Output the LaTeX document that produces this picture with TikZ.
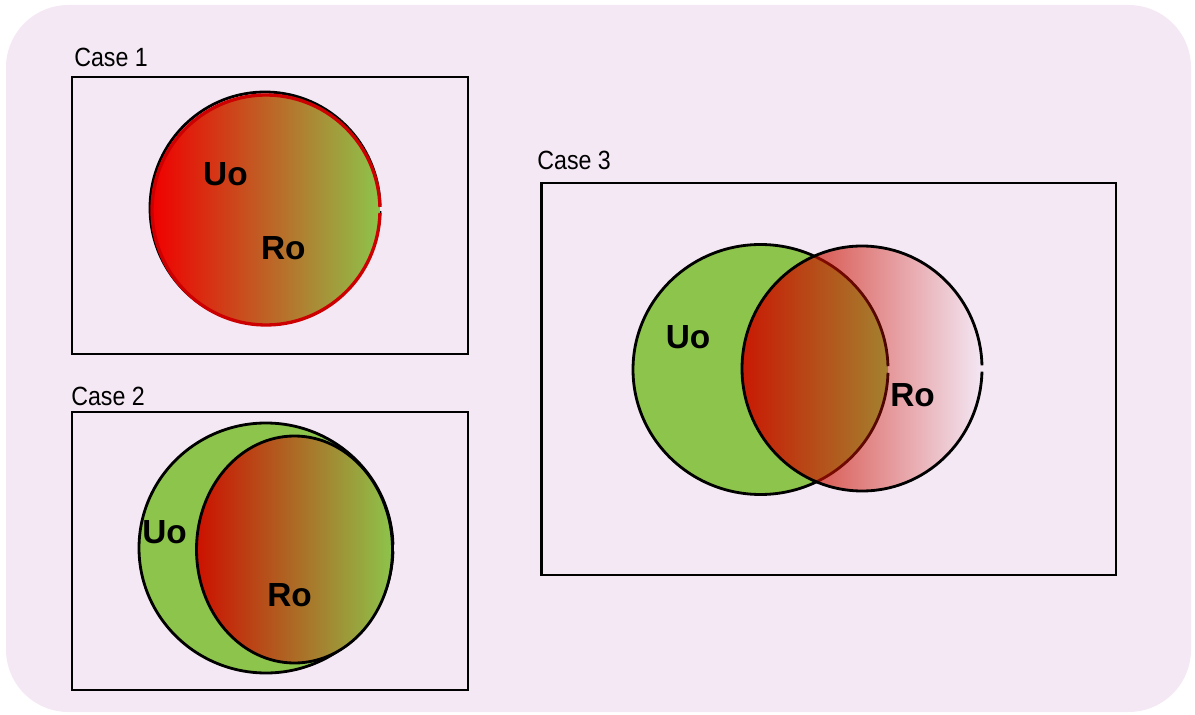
\documentclass[tikz,border=0pt]{standalone}
\usepackage{fontspec}
\setmainfont{Liberation Sans}
\usepackage{graphicx}
\usetikzlibrary{fadings}
\definecolor{bglilac}{RGB}{244,232,245}
\definecolor{uogreen}{RGB}{141,196,75}
\definecolor{rored}{RGB}{240,0,0}
\definecolor{rodark}{RGB}{204,17,0}
\tikzfading[name=ro fade,left color=transparent!5,right color=transparent!100]
\tikzset{
x=0.02cm, y=-0.02cm, % one unit = one pixel
case box/.style={draw,line width=1.3pt,inner sep=0pt},
case label/.style={inner sep=0pt,anchor=south west,font=\fontsize{15}{18}\selectfont},
set label/.style={inner sep=0pt,font=\fontsize{19}{22}\selectfont\bfseries},
set line/.style={line width=1.6pt},
ro shade/.style={left color=rodark,right color=uogreen},
}
\newcommand{\caselabel}[1]{\scalebox{0.88}[1]{#1}}

\begin{document}
\begin{tikzpicture}
\useasboundingbox (0,0) rectangle (1195,715);
\fill[bglilac,rounded corners=1.25cm] (6,5) rectangle (1191,712);

% case 1: Ro covers Uo
\node[case box,minimum width=7.92cm,minimum height=5.54cm] (case1) at (270.3,215.6) {};
\node[case label] (lab1) at (74,67) {\caselabel{Case 1}};
\draw[set line] (265,208) ++(1.5:115 and 116) arc[start angle=1.5,end angle=358.5,x radius=115,y radius=116];
\shade[ro shade,left color=rored] (266,210) ellipse[x radius=114,y radius=115];
\draw[set line,line width=1.9pt,rored!85!black] (266,210) ++(1.5:114 and 115) arc[start angle=1.5,end angle=358.5,x radius=114,y radius=115];
\node[set label] (uo1) at (225.4,174) {Uo};
\node[set label] (ro1) at (283.3,248.3) {Ro};

% case 2: Ro inside Uo
\node[case box,minimum width=7.92cm,minimum height=5.555cm] (case2) at (270.3,551.2) {};
\node[case label] (lab2) at (71,406) {\caselabel{Case 2}};
\fill[uogreen] (266,548) ellipse[x radius=127,y radius=125];
\draw[set line] (266,548) ++(1.5:127 and 125) arc[start angle=1.5,end angle=358.5,x radius=127,y radius=125];
\shade[ro shade] (294.5,549.5) ellipse[x radius=98,y radius=113.5];
\draw[set line] (294.5,549.5) ellipse[x radius=98,y radius=113.5];
\node[set label] (uo2) at (164.5,532.5) {Uo};
\node[set label] (ro2) at (289.5,595.3) {Ro};

% case 3: Uo and Ro overlap
\node[case box,minimum width=11.49cm,minimum height=7.84cm] (case3) at (828.7,379) {};
\node[case label] (lab3) at (537,170.5) {\caselabel{Case 3}};
\fill[uogreen] (760.5,369.5) ellipse[x radius=127.5,y radius=125];
\draw[set line] (760.5,369.5) ++(1.5:127.5 and 125) arc[start angle=1.5,end angle=358.5,x radius=127.5,y radius=125];
\fill[rodark,path fading=ro fade] (862,368.5) ellipse[x radius=120,y radius=122.5];
\draw[set line] (862,368.5) ++(1.5:120 and 122.5) arc[start angle=1.5,end angle=358.5,x radius=120,y radius=122.5];
\node[set label] (uo3) at (688,337.5) {Uo};
\node[set label] (ro3) at (912.5,395) {Ro};
\end{tikzpicture}
\end{document}
